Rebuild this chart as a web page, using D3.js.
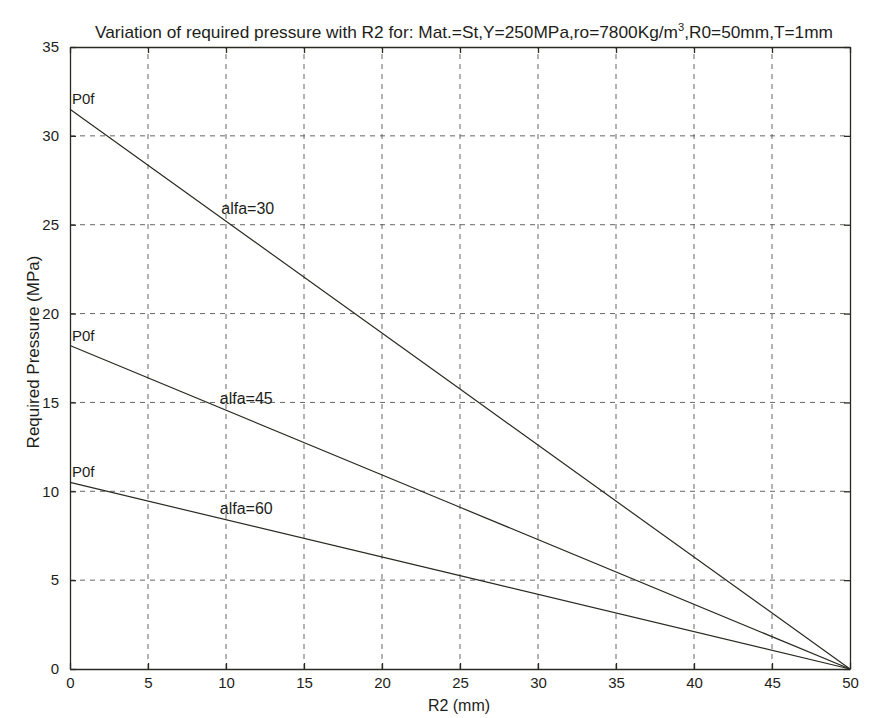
<!DOCTYPE html>
<html>
<head>
<meta charset="utf-8">
<script src="https://cdn.jsdelivr.net/npm/d3@7"></script>
<style>
  html, body { margin: 0; padding: 0; background: #fff; }
  svg { display: block; font-family: "Liberation Sans", Arial, sans-serif; }
</style>
</head>
<body>
<svg id="chart" width="873" height="718"></svg>
<script>
// R2 (mm) sample positions and required pressure (MPa) for each cone angle
const r2Values = [0, 25, 50];
const pressureAlfa30 = [31.5, 15.75, 0];
const pressureAlfa45 = [18.2, 9.1, 0];
const pressureAlfa60 = [10.5, 5.25, 0];
const seriesNames = ["alfa=30", "alfa=45", "alfa=60"];
const xTicks = [0, 5, 10, 15, 20, 25, 30, 35, 40, 45, 50];
const yTicks = [0, 5, 10, 15, 20, 25, 30, 35];
// where each curve label sits, in data units [R2, pressure]
const labelAnchors = [[9.7, 25.6], [9.6, 14.9], [9.6, 8.7]];

const series = [pressureAlfa30, pressureAlfa45, pressureAlfa60].map((vals, i) => ({
  name: seriesNames[i],
  points: r2Values.map((x, j) => [x, vals[j]])
}));

const svg = d3.select("#chart");
const margin = { left: 70, right: 23, top: 47, bottom: 49 };
const W = 873, H = 718;
const x = d3.scaleLinear().domain([0, 50]).range([margin.left, W - margin.right]);
const y = d3.scaleLinear().domain([0, 35]).range([H - margin.bottom, margin.top]);
const ink = "#2a2a22";
const textInk = "#1e1e1a";

// dashed grid
const grid = svg.append("g").attr("stroke", "#555").attr("stroke-width", 0.9)
  .attr("stroke-dasharray", "5,5");
grid.selectAll("line.v").data(xTicks.slice(1, -1)).join("line")
  .attr("x1", d => x(d)).attr("x2", d => x(d))
  .attr("y1", y(0)).attr("y2", y(35));
grid.selectAll("line.h").data(yTicks.slice(1, -1)).join("line")
  .attr("x1", x(0)).attr("x2", x(50))
  .attr("y1", d => y(d)).attr("y2", d => y(d));

// axes with inward ticks
const xAxis = d3.axisBottom(x).tickValues(xTicks).tickSizeInner(-6).tickSizeOuter(0).tickPadding(8);
const yAxis = d3.axisLeft(y).tickValues(yTicks).tickSizeInner(-6).tickSizeOuter(0).tickPadding(11);
const gx = svg.append("g").attr("transform", `translate(0,${y(0)})`).call(xAxis);
const gy = svg.append("g").attr("transform", `translate(${x(0)},0)`).call(yAxis);
const gxt = svg.append("g").attr("transform", `translate(0,${y(35)})`)
  .call(d3.axisTop(x).tickValues(xTicks).tickSizeInner(-6).tickSizeOuter(0).tickFormat(""));
const gyr = svg.append("g").attr("transform", `translate(${x(50)},0)`)
  .call(d3.axisRight(y).tickValues(yTicks).tickSizeInner(-6).tickSizeOuter(0).tickFormat(""));
[gx, gy, gxt, gyr].forEach(g => {
  g.selectAll("path,line").attr("stroke", ink).attr("stroke-width", 1.3);
  g.selectAll("text").attr("fill", textInk).attr("font-size", 15)
    .attr("font-family", "\"Liberation Sans\", Arial, sans-serif");
});

// pressure lines
const line = d3.line().x(d => x(d[0])).y(d => y(d[1]));
svg.append("g").selectAll("path").data(series).join("path")
  .attr("d", d => line(d.points))
  .attr("fill", "none").attr("stroke", ink).attr("stroke-width", 1.2);

// P0f labels at the start of each line
svg.append("g").selectAll("text").data(series).join("text")
  .attr("x", x(0) + 2).attr("y", d => y(d.points[0][1]) - 5)
  .attr("font-size", 15).attr("fill", textInk).text("P0f");

// curve names
svg.append("g").selectAll("text").data(series).join("text")
  .attr("x", (d, i) => x(labelAnchors[i][0]))
  .attr("y", (d, i) => y(labelAnchors[i][1]))
  .attr("font-size", 16).attr("fill", textInk).text(d => d.name);

// title
const title = svg.append("text").attr("x", 464).attr("y", 38)
  .attr("text-anchor", "middle").attr("font-size", 17).attr("fill", textInk)
  .attr("textLength", 738).attr("lengthAdjust", "spacingAndGlyphs");
title.append("tspan").text("Variation of required pressure with R2 for: Mat.=St,Y=250MPa,ro=7800Kg/m");
title.append("tspan").attr("font-size", 11).attr("dy", -7).text("3");
title.append("tspan").attr("dy", 7).text(",R0=50mm,T=1mm");

// axis titles
svg.append("text").attr("x", 459).attr("y", 711).attr("text-anchor", "middle")
  .attr("font-size", 16).attr("fill", textInk).text("R2 (mm)");
svg.append("text").attr("transform", `translate(39,352) rotate(-90)`)
  .attr("text-anchor", "middle").attr("font-size", 17).attr("fill", textInk)
  .text("Required Pressure (MPa)");
</script>
</body>
</html>
